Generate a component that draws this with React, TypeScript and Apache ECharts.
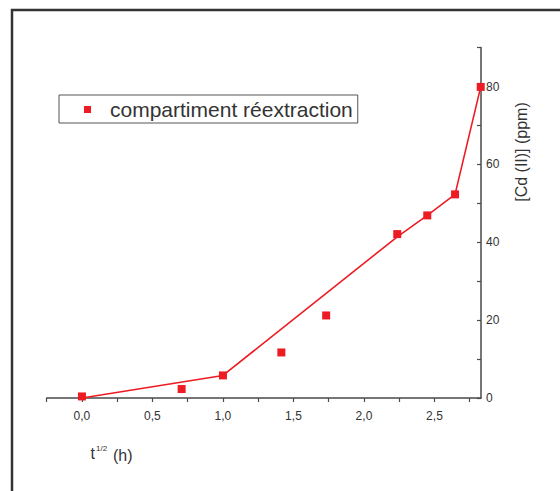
import React, { useEffect, useRef } from "react";
import * as echarts from "echarts";

const seriesName = "compartiment réextraction";
// t^(1/2) values (t = 0, 0.5, 1, 2, 3, 5, 6, 7, 8 h)
const xPoints = [0, 0.707, 1.0, 1.414, 1.732, 2.236, 2.449, 2.646, 2.828];
const yPoints = [0.4, 2.3, 5.8, 11.7, 21.2, 42.1, 46.9, 52.3, 79.9];
// fitted piecewise line
const xLine = [0, 1.0, 2.236, 2.449, 2.646, 2.828];
const yLine = [0, 5.8, 41.4, 46.9, 52.3, 79.9];
const xTicks = [-0.25, 0, 0.25, 0.5, 0.75, 1, 1.25, 1.5, 1.75, 2, 2.25, 2.5, 2.75];
const xLabels = [0, 0.5, 1, 1.5, 2, 2.5];
const yTicks = [0, 10, 20, 30, 40, 50, 60, 70, 80, 90];
const yLabels = [0, 20, 40, 60, 80];

const RED = "#ed1c24";
const AXIS = "#4a4a4a";
const FONT = "Liberation Sans, Arial, sans-serif";

export default function App() {
  const ref = useRef<HTMLDivElement>(null);
  useEffect(() => {
    if (!ref.current) return;
    const chart = echarts.init(ref.current, undefined, { renderer: "svg" });
    chart.setOption({
      animation: false,
      backgroundColor: "#ffffff",
      textStyle: { fontFamily: FONT },
      grid: { left: 46.7, right: 79, top: 47.6, bottom: 93, containLabel: false },
      legend: {
        data: [seriesName],
        left: 59,
        top: 95,
        padding: [4, 5, 3, 25],
        itemWidth: 7,
        itemHeight: 7,
        icon: "rect",
        borderColor: "#555",
        borderWidth: 1,
        itemStyle: { opacity: 1 },
        textStyle: { fontSize: 21, color: "#333", fontFamily: FONT, padding: [0, 0, 0, 14] },
      },
      xAxis: {
        type: "value",
        min: -0.25,
        max: 2.83,
        splitLine: { show: false },
        axisLine: { show: true, onZero: false, lineStyle: { color: AXIS, width: 1.5 } },
        axisTick: { show: true, inside: false, length: 4, customValues: xTicks, lineStyle: { color: AXIS, width: 1.2 } },
        axisLabel: {
          customValues: xLabels,
          margin: 12,
          fontSize: 12,
          color: "#333",
          fontFamily: FONT,
          formatter: (v: number) => v.toFixed(1).replace(".", ","),
        },
      },
      yAxis: {
        type: "value",
        position: "right",
        min: 0,
        max: 90,
        splitLine: { show: false },
        axisLine: { show: true, onZero: false, lineStyle: { color: AXIS, width: 1.5 } },
        axisTick: { show: true, inside: true, length: 4, customValues: yTicks, lineStyle: { color: AXIS, width: 1.2 } },
        axisLabel: {
          customValues: yLabels,
          margin: 5,
          fontSize: 12,
          color: "#333",
          fontFamily: FONT,
        },
      },
      graphic: [
        {
          type: "rect",
          shape: { x: 12, y: 10, width: 700, height: 700 },
          style: { fill: "none", stroke: "#333", lineWidth: 2.5 },
          silent: true,
        },
        {
          type: "text",
          x: 521,
          y: 152,
          rotation: Math.PI / 2,
          style: { text: "[Cd (II)] (ppm)", font: `16px ${FONT}`, fill: "#333", align: "center", verticalAlign: "middle" },
        },
        {
          type: "text",
          x: 90.5,
          y: 461,
          style: { text: "t", font: `16px ${FONT}`, fill: "#333", align: "left", verticalAlign: "bottom" },
        },
        {
          type: "text",
          x: 96,
          y: 452,
          style: { text: "1/2", font: `8px ${FONT}`, fill: "#333", align: "left", verticalAlign: "bottom" },
        },
        {
          type: "text",
          x: 113,
          y: 463,
          style: { text: "(h)", font: `16px ${FONT}`, fill: "#333", align: "left", verticalAlign: "bottom" },
        },
      ],
      series: [
        {
          name: "fit",
          type: "line",
          data: xLine.map((x, i) => [x, yLine[i]]),
          showSymbol: false,
          symbol: "none",
          lineStyle: { color: RED, width: 1.6 },
          itemStyle: { color: RED },
          z: 2,
        },
        {
          name: seriesName,
          type: "scatter",
          data: xPoints.map((x, i) => [x, yPoints[i]]),
          symbol: "rect",
          symbolSize: 8,
          itemStyle: { color: RED, opacity: 1 },
          z: 3,
        },
      ],
    });
    return () => chart.dispose();
  }, []);
  return (
    <div
      ref={ref}
      style={{ position: "fixed", left: 0, top: 0, width: 560, height: 491, background: "#fff" }}
    />
  );
}
